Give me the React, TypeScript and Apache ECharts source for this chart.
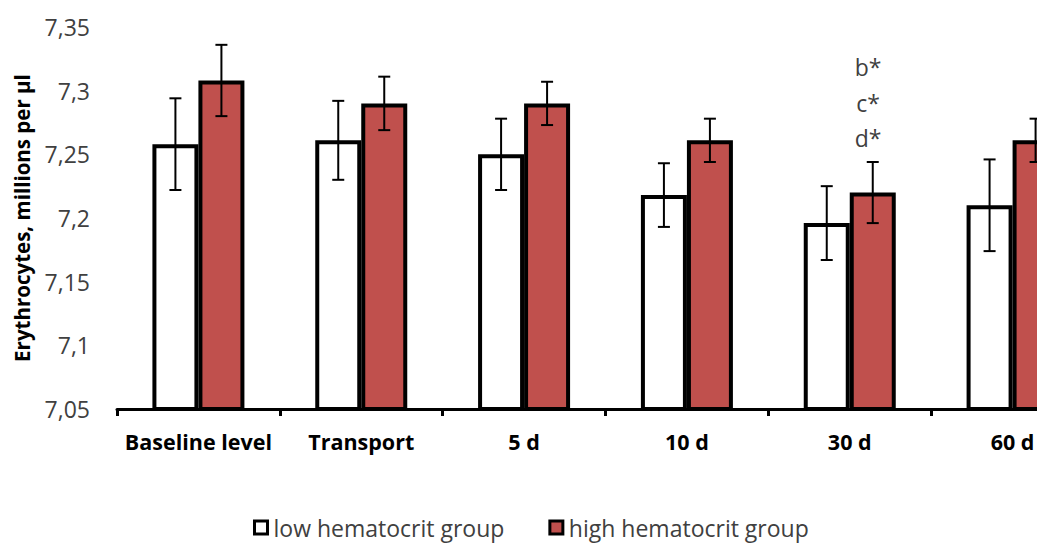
import React, { useEffect, useRef } from "react";
import * as echarts from "echarts";

const categories = ["Baseline level", "Transport", "5 d", "10 d", "30 d", "60 d"];
const lowMean = [7.258, 7.261, 7.25, 7.218, 7.196, 7.21];
const lowErr = [0.036, 0.031, 0.028, 0.025, 0.029, 0.036];
const highMean = [7.308, 7.29, 7.29, 7.261, 7.22, 7.261];
const highErr = [0.028, 0.021, 0.017, 0.017, 0.024, 0.017];
const yTicks = [7.05, 7.1, 7.15, 7.2, 7.25, 7.3, 7.35];
const annotation = ["b*", "c*", "d*"];

const FONT = "'Open Sans', Lato, sans-serif";
const BAR_W = 46;

export default function App() {
  const ref = useRef<HTMLDivElement>(null);
  useEffect(() => {
    if (!ref.current) return;
    const chart = echarts.init(ref.current, undefined, { renderer: "svg" });

    const errData: any[] = [];
    categories.forEach((_, i) => {
      errData.push([i, lowMean[i] - lowErr[i], lowMean[i] + lowErr[i], -1]);
      errData.push([i, highMean[i] - highErr[i], highMean[i] + highErr[i], 1]);
    });

    chart.setOption({
      animation: false,
      textStyle: { fontFamily: FONT },
      grid: { left: 117, right: 0, top: 27, bottom: 140 },
      legend: {
        top: 516,
        left: 253,
        padding: 0,
        itemWidth: 13,
        itemHeight: 13,
        itemGap: 44,
        icon: "rect",
        textStyle: { fontSize: 23, color: "#404040", fontFamily: FONT, padding: [0, 0, 0, 1] },
        data: [
          { name: "low hematocrit group", itemStyle: { color: "#fff", borderColor: "#000", borderWidth: 3 } },
          { name: "high hematocrit group", itemStyle: { color: "#C0504D", borderColor: "#000", borderWidth: 3 } },
        ],
      },
      xAxis: {
        type: "category",
        data: categories,
        axisLine: { lineStyle: { color: "#000", width: 3 } },
        axisTick: { show: true, length: 7, alignWithLabel: false, lineStyle: { color: "#000", width: 3 } },
        axisLabel: { fontSize: 21.5, fontWeight: "bold", color: "#000", margin: 21, fontFamily: FONT, interval: 0 },
      },
      yAxis: {
        type: "value",
        min: 7.05,
        max: 7.35,
        interval: 0.05,
        name: "Erythrocytes, millions per µl",
        nameLocation: "middle",
        nameGap: 85,
        nameTextStyle: { fontSize: 20.5, fontWeight: "bold", color: "#000", fontFamily: FONT },
        axisLine: { show: false },
        axisTick: { show: false },
        splitLine: { show: false },
        axisLabel: {
          fontSize: 23,
          color: "#404040",
          margin: 27,
          fontFamily: FONT,
          formatter: (v: number) => {
            const t = yTicks.find((k) => Math.abs(k - v) < 1e-6);
            return t === undefined ? "" : String(parseFloat(t.toFixed(2))).replace(".", ",");
          },
        },
      },
      series: [
        {
          name: "low hematocrit group",
          type: "bar",
          data: lowMean,
          barWidth: BAR_W,
          barGap: "0%",
          itemStyle: { color: "#fff", borderColor: "#000", borderWidth: 4 },
        },
        {
          name: "high hematocrit group",
          type: "bar",
          data: highMean,
          barWidth: BAR_W,
          barGap: "0%",
          itemStyle: { color: "#C0504D", borderColor: "#000", borderWidth: 4 },
        },
        {
          type: "custom",
          data: errData,
          z: 10,
          renderItem: (params: any, api: any) => {
            const i = api.value(0);
            const lo = api.coord([i, api.value(1)]);
            const hi = api.coord([i, api.value(2)]);
            const x = lo[0] + api.value(3) * (BAR_W / 2);
            const cap = 6;
            const style = { stroke: "#000", lineWidth: 2 };
            return {
              type: "group",
              children: [
                { type: "line", shape: { x1: x, y1: lo[1], x2: x, y2: hi[1] }, style },
                { type: "line", shape: { x1: x - cap, y1: lo[1], x2: x + cap, y2: lo[1] }, style },
                { type: "line", shape: { x1: x - cap, y1: hi[1], x2: x + cap, y2: hi[1] }, style },
              ],
            };
          },
        },
      ],
      graphic: annotation.map((t, k) => ({
        type: "text",
        x: 868,
        y: 67 + k * 35.5,
        style: {
          text: t,
          fontSize: 23,
          fill: "#404040",
          fontFamily: FONT,
          align: "center",
          verticalAlign: "middle",
        },
      })),
    });
    return () => chart.dispose();
  }, []);
  return (
    <div
      style={{ position: "fixed", left: 0, top: 0, width: 1037, height: 549, overflow: "hidden", background: "#fff" }}
    >
      <div ref={ref} style={{ width: 1094, height: 549 }} />
    </div>
  );
}
